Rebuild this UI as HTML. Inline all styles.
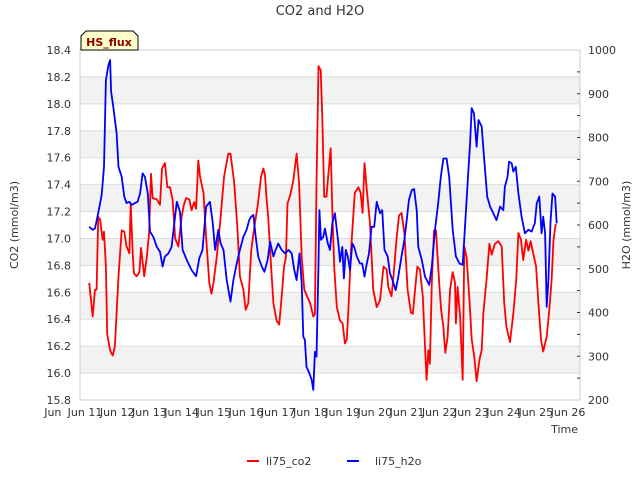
<!DOCTYPE html>
<html><head><meta charset="utf-8"><style>
body{margin:0;background:#fff;font-family:"Liberation Sans",sans-serif}
svg text{font-family:"DejaVu Sans","Liberation Sans",sans-serif}
</style></head><body>
<svg id="c" width="640" height="480" viewBox="0 0 640 480">
<text x="320" y="15" text-anchor="middle" font-size="13" fill="#333">CO2 and H2O</text>
<g id="bands"></g>
<g id="grid"></g>
<rect x="80" y="50" width="500" height="350" fill="none" stroke="#ccc"/>
<g id="yl"></g><g id="yr"></g><g id="xt"></g>
<g id="series"></g>
<text transform="translate(18,225) rotate(-90)" text-anchor="middle" font-size="11" fill="#333">CO2 (mmol/m3)</text>
<text transform="translate(630,225) rotate(-90)" text-anchor="middle" font-size="11" fill="#333">H2O (mmol/m3)</text>
<text x="578" y="433" text-anchor="end" font-size="11" fill="#333">Time</text>
<g>
<path d="M81,50 L81,36 L86,31 L133,31 L138,36 L138,50 Z" fill="#ffffcc" stroke="#000" stroke-width="1"/>
<text x="109" y="46" text-anchor="middle" font-size="11" font-weight="bold" fill="#8b0000">HS_flux</text>
</g>
<g><line x1="247" y1="461" x2="259" y2="461" stroke="#f00" stroke-width="2"/><text x="266" y="465" font-size="11" fill="#333">li75_co2</text></g>
<g><line x1="347" y1="461" x2="359" y2="461" stroke="#00f" stroke-width="2"/><text x="375" y="465" font-size="11" fill="#333">li75_h2o</text></g>
</svg>
<script>
const co2Dates=[11.13,11.24,11.31,11.36,11.41,11.47,11.55,11.59,11.65,11.69,11.78,11.86,11.93,12.04,12.14,12.22,12.29,12.38,12.42,12.48,12.52,12.61,12.69,12.74,12.84,12.92,12.99,13.05,13.10,13.23,13.33,13.39,13.48,13.56,13.64,13.72,13.80,13.90,14.00,14.07,14.14,14.24,14.31,14.39,14.45,14.52,14.57,14.68,14.76,14.86,14.93,14.99,15.09,15.19,15.32,15.45,15.52,15.63,15.73,15.81,15.92,15.99,16.07,16.16,16.26,16.36,16.47,16.54,16.59,16.64,16.69,16.78,16.85,16.95,17.03,17.11,17.18,17.24,17.29,17.37,17.47,17.57,17.65,17.73,17.81,17.88,17.99,18.09,18.14,18.19,18.25,18.32,18.37,18.43,18.50,18.56,18.63,18.68,18.74,18.82,18.92,19.00,19.07,19.13,19.18,19.26,19.38,19.49,19.56,19.62,19.68,19.75,19.85,19.95,20.06,20.16,20.27,20.37,20.42,20.52,20.58,20.68,20.75,20.83,20.92,21.02,21.12,21.18,21.25,21.32,21.40,21.49,21.56,21.61,21.66,21.71,21.77,21.84,21.90,21.95,22.00,22.06,22.13,22.19,22.26,22.34,22.42,22.49,22.52,22.57,22.65,22.73,22.78,22.85,22.94,23.01,23.09,23.16,23.25,23.32,23.37,23.47,23.56,23.63,23.73,23.84,23.94,24.02,24.09,24.20,24.30,24.39,24.46,24.54,24.61,24.70,24.77,24.84,24.92,25.01,25.08,25.16,25.23,25.34,25.42,25.49,25.55,25.62];
const co2Values=[16.67,16.42,16.62,16.62,17.16,17.14,16.99,17.05,16.79,16.29,16.17,16.13,16.20,16.72,17.06,17.05,16.94,16.89,17.26,16.89,16.74,16.72,16.75,16.93,16.72,16.86,17.04,17.48,17.30,17.29,17.25,17.52,17.56,17.38,17.38,17.29,17.00,16.94,17.16,17.25,17.30,17.29,17.21,17.27,17.22,17.58,17.46,17.34,17.01,16.67,16.59,16.67,16.86,17.10,17.46,17.63,17.63,17.42,17.09,16.72,16.62,16.47,16.52,16.91,17.09,17.24,17.46,17.52,17.47,17.29,17.16,16.79,16.52,16.39,16.36,16.57,16.79,16.86,17.26,17.32,17.43,17.63,17.41,16.86,16.62,16.58,16.52,16.42,16.44,17.41,18.28,18.25,17.90,17.31,17.31,17.48,17.67,17.21,16.79,16.49,16.39,16.37,16.22,16.25,16.47,16.91,17.34,17.38,17.34,17.19,17.56,17.36,17.11,16.62,16.49,16.54,16.79,16.77,16.64,16.57,16.72,17.01,17.17,17.19,17.04,16.62,16.45,16.44,16.62,16.79,16.77,16.57,16.20,15.95,16.17,16.07,16.67,17.06,17.06,16.86,16.67,16.47,16.34,16.15,16.27,16.62,16.75,16.67,16.37,16.64,16.42,15.95,16.94,16.86,16.54,16.25,16.12,15.94,16.10,16.17,16.44,16.69,16.96,16.88,16.96,16.98,16.94,16.52,16.34,16.23,16.44,16.69,17.04,16.99,16.84,16.99,16.91,16.98,16.89,16.79,16.52,16.25,16.16,16.27,16.47,16.69,16.99,17.11];
const h2oDates=[11.13,11.24,11.31,11.41,11.52,11.59,11.65,11.73,11.78,11.81,11.88,11.98,12.04,12.14,12.22,12.29,12.38,12.45,12.55,12.63,12.71,12.79,12.86,12.95,13.02,13.12,13.23,13.33,13.41,13.48,13.59,13.69,13.76,13.85,13.95,14.03,14.16,14.31,14.45,14.55,14.65,14.76,14.88,14.97,15.04,15.14,15.21,15.30,15.40,15.52,15.61,15.71,15.81,15.92,16.02,16.10,16.16,16.23,16.30,16.38,16.49,16.57,16.67,16.75,16.85,16.92,17.00,17.11,17.21,17.32,17.42,17.50,17.57,17.66,17.73,17.78,17.83,17.88,17.97,18.04,18.09,18.14,18.19,18.25,18.28,18.33,18.40,18.45,18.54,18.61,18.68,18.76,18.82,18.87,18.92,18.99,19.04,19.10,19.16,19.23,19.30,19.36,19.44,19.54,19.61,19.68,19.75,19.82,19.90,19.98,20.06,20.16,20.23,20.30,20.40,20.47,20.55,20.65,20.73,20.83,20.92,20.99,21.06,21.15,21.22,21.30,21.35,21.46,21.56,21.69,21.77,21.87,21.97,22.05,22.13,22.23,22.31,22.42,22.52,22.63,22.73,22.80,22.90,22.96,23.01,23.08,23.16,23.22,23.32,23.39,23.49,23.58,23.68,23.78,23.89,23.99,24.04,24.12,24.17,24.25,24.30,24.38,24.46,24.56,24.66,24.77,24.87,24.97,25.03,25.11,25.18,25.23,25.29,25.34,25.39,25.46,25.52,25.60,25.65];
const h2oValues=[596,589,592,627,669,733,931,966,977,905,870,810,733,710,665,650,653,646,650,653,672,718,710,672,585,573,550,539,505,528,535,550,596,653,630,543,520,497,483,524,543,642,653,604,543,589,558,543,474,425,474,512,543,573,589,611,619,623,573,528,505,493,520,562,528,543,558,543,535,543,535,497,474,535,467,345,337,276,261,246,223,310,299,512,634,566,573,592,558,543,604,627,589,558,516,550,478,543,528,497,558,550,528,512,512,482,512,535,596,596,653,627,634,543,528,490,474,451,482,528,566,611,657,680,682,634,550,520,482,463,505,589,650,710,752,752,710,589,528,512,509,596,718,787,867,855,779,840,825,756,665,642,627,611,642,634,688,710,745,741,722,733,672,619,581,589,585,604,650,665,581,619,581,413,474,611,672,665,604];
const leftTicks=[15.8,16.0,16.2,16.4,16.6,16.8,17.0,17.2,17.4,17.6,17.8,18.0,18.2,18.4];
const rightTicks=[200,300,400,500,600,700,800,900,1000];
const xTickDays=[10,11,12,13,14,15,16,17,18,19,20,21,22,23,24,25,26];
const xTickLabels=["Jun","Jun 11","Jun 12","Jun 13","Jun 14","Jun 15","Jun 16","Jun 17","Jun 18","Jun 19","Jun 20","Jun 21","Jun 22","Jun 23","Jun 24","Jun 25","Jun 26"];
const NS="http://www.w3.org/2000/svg";
const xs=d=>85+(d-11)*32.2;
const yL=v=>400-(v-15.8)/2.6*350;
const yR=v=>400-(v-200)/800*350;
function mk(tag,attrs,parent){const e=document.createElementNS(NS,tag);for(const k in attrs)e.setAttribute(k,attrs[k]);document.getElementById(parent).appendChild(e);return e;}
for(let i=0;i<leftTicks.length-1;i++){
  const v=leftTicks[i];
  if(Math.round(v*10)%4===0 && v>15.9){const r=mk('rect',{x:80,y:yL(v+0.2),width:500,height:yL(v)-yL(v+0.2),fill:'#f2f2f2'},'bands');
  
  }
}
leftTicks.forEach(v=>{
  const l=mk('line',{x1:80,x2:580,y1:yL(v),y2:yL(v),stroke:'#ddd'},'grid');
  
  
  const t=mk('text',{x:71,y:yL(v)+4,'text-anchor':'end','font-size':11,fill:'#333'},'yl');
  t.textContent=v.toFixed(1);
  
  
});
rightTicks.forEach(v=>{
  const t=mk('text',{x:588,y:yR(v)+4,'font-size':11,fill:'#333'},'yr');
  t.textContent=v;
  
  
});
for(let v=250;v<1000;v+=50){const m=mk('line',{x1:577,x2:580,y1:yR(v),y2:yR(v),stroke:'#333'},'yr');

}
xTickDays.forEach((d,i)=>{
  const t=mk('text',{x:xs(d),y:416,'text-anchor':'middle','font-size':11,fill:'#333'},'xt');
  t.textContent=xTickLabels[i];
  
  
});
function line(ds,vs,yf,col,name){
  const p=ds.map((d,i)=>(i?'L':'M')+xs(d).toFixed(1)+','+yf(vs[i]).toFixed(1)).join('');
  const e=mk('path',{d:p,fill:'none',stroke:col,'stroke-width':1.8,'stroke-linejoin':'round'},'series');
  
  
}
line(co2Dates,co2Values,yL,'#f00','co2-line');
line(h2oDates,h2oValues,yR,'#00f','h2o-line');
</script>
</body></html>
